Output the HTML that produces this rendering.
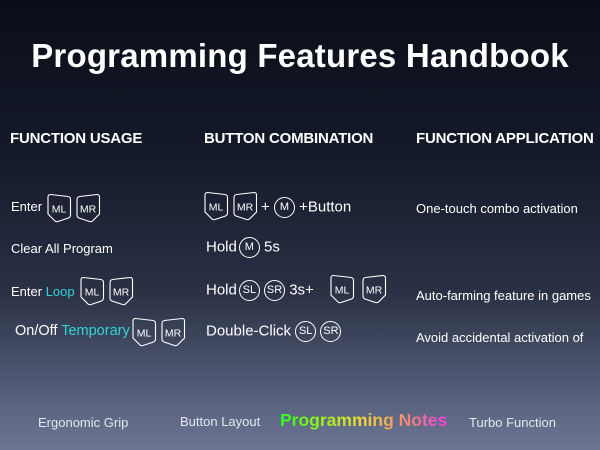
<!DOCTYPE html>
<html><head><meta charset="utf-8"><style>
body{margin:0;width:600px;height:450px;overflow:hidden;position:relative;font-family:"Liberation Sans",sans-serif;color:#fff;
background:linear-gradient(180deg,#0b0e18 0%,#141a2a 35%,#2a3145 65%,#5a6480 90%,#6c7692 100%);}
.a{position:absolute;white-space:nowrap}
h1{position:absolute;margin:0;left:0;width:600px;text-align:center;top:37px;font-size:33px;font-weight:bold;letter-spacing:0.2px}
.h{font-size:15px;top:130px;font-weight:bold;letter-spacing:-0.2px}
.t{font-size:13px}
.b{font-size:15px}
.c{color:#2fd3d8}
svg{vertical-align:middle}
.ci{display:inline-block;width:19px;height:19px;border:1.3px solid #fff;border-radius:50%;font-size:11px;text-align:center;line-height:19px;vertical-align:middle}
</style></head><body>
<h1>Programming Features Handbook</h1>
<div class="a h" style="left:10px">FUNCTION USAGE</div>
<div class="a h" style="left:204px">BUTTON COMBINATION</div>
<div class="a h" style="left:416px">FUNCTION APPLICATION</div>

<svg width="0" height="0" style="position:absolute"><defs>
<g id="ml"><path d="M1,4 Q1,1.5 3.5,1.5 L21,3.5 Q23.5,4 23.5,6.5 L23.5,22 Q23.5,24 21.5,25 L11,28.5 Q9,29 8,28 L1,21 Z" fill="none" stroke="#fff" stroke-width="1.1"/></g>
<g id="mr"><path d="M23.5,4 Q23.5,1.5 21,1.5 L3.5,3.5 Q1,4 1,6.5 L1,22 Q1,24 3,25 L13.5,28.5 Q15.5,29 16.5,28 L23.5,21 Z" fill="none" stroke="#fff" stroke-width="1.1"/></g>
</defs></svg>

<div class="a t" style="left:11px;top:199px">Enter</div>
<svg class="a" style="left:47px;top:193px" width="54" height="31"><use href="#ml"/><text x="12" y="19.5" font-size="10.5" fill="#fff" text-anchor="middle" font-family="Liberation Sans">ML</text><use href="#mr" x="29"/><text x="41" y="19.5" font-size="10.5" fill="#fff" text-anchor="middle" font-family="Liberation Sans">MR</text></svg>
<div class="a t" style="left:11px;top:241px">Clear All Program</div>
<div class="a t" style="left:11px;top:284px">Enter <span class="c">Loop</span></div>
<svg class="a" style="left:80px;top:276px" width="54" height="31"><use href="#ml"/><text x="12" y="19.5" font-size="10.5" fill="#fff" text-anchor="middle" font-family="Liberation Sans">ML</text><use href="#mr" x="29"/><text x="41" y="19.5" font-size="10.5" fill="#fff" text-anchor="middle" font-family="Liberation Sans">MR</text></svg>
<div class="a" style="left:15px;top:323px;font-size:14.5px">On/Off <span class="c">Temporary</span></div>
<svg class="a" style="left:132px;top:317px" width="54" height="31"><use href="#ml"/><text x="12" y="19.5" font-size="10.5" fill="#fff" text-anchor="middle" font-family="Liberation Sans">ML</text><use href="#mr" x="29"/><text x="41" y="19.5" font-size="10.5" fill="#fff" text-anchor="middle" font-family="Liberation Sans">MR</text></svg>

<svg class="a" style="left:204px;top:191px" width="54" height="31"><use href="#ml"/><text x="12" y="19.5" font-size="10.5" fill="#fff" text-anchor="middle" font-family="Liberation Sans">ML</text><use href="#mr" x="29"/><text x="41" y="19.5" font-size="10.5" fill="#fff" text-anchor="middle" font-family="Liberation Sans">MR</text></svg>
<div class="a b" style="left:261px;top:197px">+ <span class="ci">M</span> +Button</div>
<div class="a b" style="left:206px;top:237px">Hold<span class="ci" style="margin-left:2px">M</span> 5s</div>
<div class="a b" style="left:206px;top:280px">Hold<span class="ci" style="margin-left:2px">SL</span> <span class="ci">SR</span> 3s+</div>
<svg class="a" style="left:330px;top:274px" width="58" height="31"><use href="#ml"/><text x="12" y="19.5" font-size="10.5" fill="#fff" text-anchor="middle" font-family="Liberation Sans">ML</text><use href="#mr" x="32"/><text x="44" y="19.5" font-size="10.5" fill="#fff" text-anchor="middle" font-family="Liberation Sans">MR</text></svg>
<div class="a b" style="left:206px;top:321px">Double-Click <span class="ci">SL</span> <span class="ci">SR</span></div>

<div class="a t" style="left:416px;top:201px">One-touch combo activation</div>
<div class="a t" style="left:416px;top:288px">Auto-farming feature in games</div>
<div class="a t" style="left:416px;top:330px">Avoid accidental activation of</div>

<div class="a t" style="left:38px;top:415px;color:#e6e8f0">Ergonomic Grip</div>
<div class="a t" style="left:180px;top:414px;color:#e6e8f0">Button Layout</div>
<div class="a" style="left:280px;top:410px;font-size:17.5px;font-weight:bold;background:linear-gradient(90deg,#2cff1a,#9cf21c,#f2d23a,#f08a70,#f03ee0);-webkit-background-clip:text;background-clip:text;color:transparent">Programming Notes</div>
<div class="a t" style="left:469px;top:415px;color:#e6e8f0">Turbo Function</div>
</body></html>
